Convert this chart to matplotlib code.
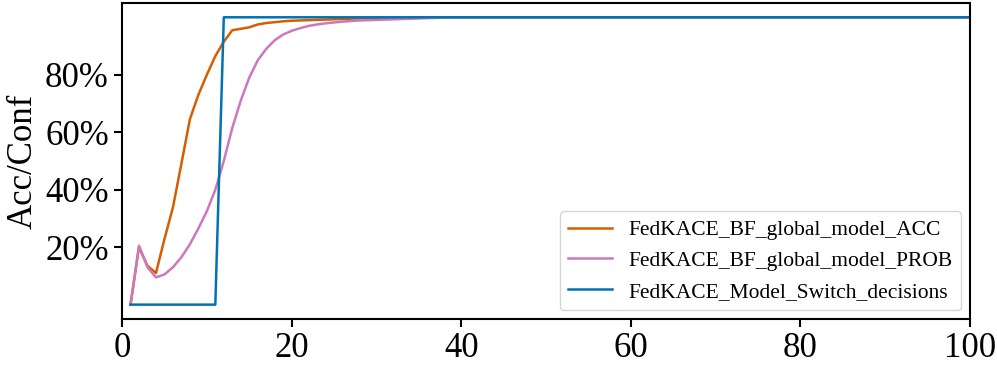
import numpy as np
import matplotlib.pyplot as plt
from matplotlib.ticker import PercentFormatter

plt.rcParams['font.family'] = ['Liberation Serif', 'DejaVu Serif']

# rounds 1..100
rounds = np.arange(1, 101)

acc_head = [0.0, 0.2, 0.135, 0.11, 0.228, 0.338, 0.49, 0.645, 0.73, 0.80,
            0.865, 0.915, 0.955, 0.96, 0.965, 0.975, 0.98, 0.983, 0.986, 0.988,
            0.989, 0.99, 0.991, 0.992, 0.993, 0.994, 0.995, 0.996, 0.996, 0.997,
            0.997, 0.998, 0.998, 0.999, 0.999]
prob_head = [0.0, 0.205, 0.13, 0.095, 0.105, 0.13, 0.165, 0.21, 0.265, 0.325,
             0.40, 0.50, 0.615, 0.71, 0.79, 0.85, 0.89, 0.92, 0.94, 0.953,
             0.962, 0.97, 0.975, 0.979, 0.982, 0.985, 0.987, 0.989, 0.99, 0.991,
             0.992, 0.993, 0.994, 0.995, 0.996, 0.997, 0.998, 0.999]
switch_head = [0.0] * 11

acc = acc_head + [1.0] * (100 - len(acc_head))
prob = prob_head + [1.0] * (100 - len(prob_head))
switch = switch_head + [1.0] * (100 - len(switch_head))

labels = ["FedKACE_BF_global_model_ACC",
          "FedKACE_BF_global_model_PROB",
          "FedKACE_Model_Switch_decisions"]
colors = ["#d55e00", "#cc78bc", "#0173b2"]

fig = plt.figure(figsize=(9.97, 3.65), dpi=100)
ax = fig.add_axes([0.1224, 0.126, 0.8506, 0.866])

for y, lab, c in zip([acc, prob, switch], labels, colors):
    ax.plot(rounds, y, color=c, lw=1.8, label=lab)

ax.set_xlim(0, 100)
ax.set_ylim(-0.05, 1.05)
ax.set_xticks([0, 20, 40, 60, 80, 100])
ax.set_yticks([0.2, 0.4, 0.6, 0.8])
ax.yaxis.set_major_formatter(PercentFormatter(1.0, decimals=0))
ax.tick_params(labelsize=25, width=1.5, length=6)
ax.set_ylabel("Acc/Conf", fontsize=25)
for s in ax.spines.values():
    s.set_linewidth(1.5)

ax.legend(loc="lower right", fontsize=15.5, borderaxespad=0.4)

fig.savefig("out.png", dpi=100)
